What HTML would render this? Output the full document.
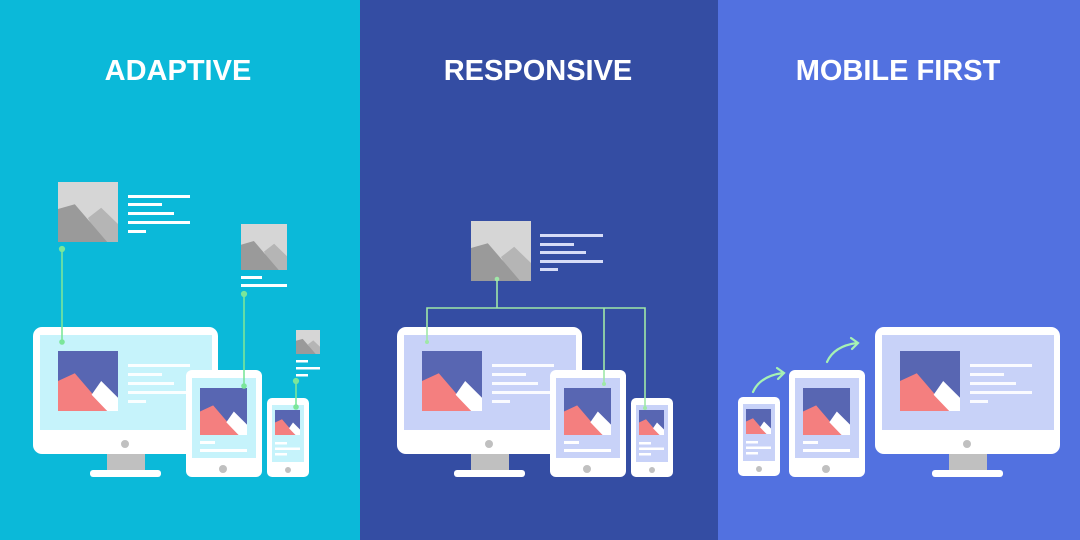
<!DOCTYPE html>
<html><head><meta charset="utf-8"><style>
html,body{margin:0;padding:0;width:1080px;height:540px;overflow:hidden}
text{font-family:"Liberation Sans",sans-serif;font-weight:bold;fill:#fff;font-size:29px}
</style></head><body>
<svg width="1080" height="540" viewBox="0 0 1080 540" xmlns="http://www.w3.org/2000/svg">
<defs>
<symbol id="img" viewBox="0 0 100 100" preserveAspectRatio="none">
<rect width="100" height="100" fill="#5866b2"/>
<polygon points="0,100 0,50 28,37 82,100" fill="#f47f7f"/>
<polygon points="56,73 72,50 100,78 100,100 82,100" fill="#fff"/>
</symbol>
<symbol id="gimg" viewBox="0 0 100 100" preserveAspectRatio="none">
<rect width="100" height="100" fill="#d6d6d6"/>
<polygon points="50,60 72,43 100,70 100,100 70,100" fill="#b5b5b5"/>
<polygon points="0,100 0,45 28,37 82,100" fill="#9a9a9a"/>
</symbol>
<g id="mon"><rect x="0" y="0" width="185" height="127" rx="9" fill="#fff"/>
<rect x="57" y="143" width="71" height="7" rx="3" fill="#fff"/>
<rect x="74" y="127" width="38" height="16" fill="#c0c0c0"/>
<circle cx="92" cy="117" r="4" fill="#c0c0c0"/></g>
<g id="monc"><use href="#img" x="25" y="24" width="60" height="60"/>
<rect x="95" y="37" width="62" height="3" fill="#fff" opacity=".9"/>
<rect x="95" y="46" width="34" height="3" fill="#fff" opacity=".9"/>
<rect x="95" y="55" width="46" height="3" fill="#fff" opacity=".9"/>
<rect x="95" y="64" width="62" height="3" fill="#fff" opacity=".9"/>
<rect x="95" y="73" width="18" height="3" fill="#fff" opacity=".9"/></g>
<g id="tab"><rect width="76" height="107" rx="6" fill="#fff"/>
<circle cx="37" cy="99" r="4" fill="#c0c0c0"/></g>
<g id="tabc"><use href="#img" x="14" y="18" width="47" height="47"/>
<rect x="14" y="71" width="15" height="3" fill="#fff"/>
<rect x="14" y="79" width="47" height="3" fill="#fff"/></g>
<g id="ph"><rect width="42" height="79" rx="5" fill="#fff"/>
<circle cx="21" cy="72" r="3" fill="#c0c0c0"/></g>
<g id="phc"><use href="#img" x="8" y="12" width="25" height="25"/>
<rect x="8" y="44" width="12" height="2.5" fill="#fff"/>
<rect x="8" y="49.5" width="25" height="2.5" fill="#fff"/>
<rect x="8" y="55" width="12" height="2.5" fill="#fff"/></g>
</defs>
<rect x="0" y="0" width="360" height="540" fill="#0bb9d9"/>
<rect x="360" y="0" width="358" height="540" fill="#344da3"/>
<rect x="718" y="0" width="362" height="540" fill="#5271e0"/>
<text x="178" y="80" text-anchor="middle">ADAPTIVE</text>
<text x="538" y="80" text-anchor="middle">RESPONSIVE</text>
<text x="898" y="80" text-anchor="middle">MOBILE FIRST</text>

<!-- ADAPTIVE -->
<use href="#gimg" x="58" y="182" width="60" height="60"/>
<g fill="#fff"><rect x="128" y="195" width="62" height="3"/><rect x="128" y="203" width="34" height="3"/><rect x="128" y="212" width="46" height="3"/><rect x="128" y="221" width="62" height="3"/><rect x="128" y="230" width="18" height="3"/></g>
<use href="#gimg" x="241" y="224" width="46" height="46"/>
<g fill="#fff"><rect x="241" y="276" width="21" height="3"/><rect x="241" y="284" width="46" height="3"/></g>
<use href="#gimg" x="296" y="330" width="24" height="24"/>
<g fill="#fff"><rect x="296" y="360" width="12" height="2.5"/><rect x="296" y="367" width="24" height="2.5"/><rect x="296" y="374" width="12" height="2.5"/></g>
<g transform="translate(33,327)"><use href="#mon"/><rect x="7" y="8" width="172" height="95" fill="#c6f3fb"/><use href="#monc"/></g>
<g transform="translate(186,370)"><use href="#tab"/><rect x="6" y="8" width="64" height="80" fill="#c6f3fb"/><use href="#tabc"/></g>
<g transform="translate(267,398)"><use href="#ph"/><rect x="5" y="7" width="32" height="57" fill="#c6f3fb"/><use href="#phc"/></g>
<g stroke="#7be69a" stroke-width="1.6" fill="#7be69a">
<line x1="62" y1="249" x2="62" y2="342"/><circle cx="62" cy="249" r="2.3"/><circle cx="62" cy="342" r="2"/>
<line x1="244" y1="294" x2="244" y2="386"/><circle cx="244" cy="294" r="2.3"/><circle cx="244" cy="386" r="2"/>
<line x1="296" y1="381" x2="296" y2="407"/><circle cx="296" cy="381" r="2.3"/><circle cx="296" cy="407" r="2"/>
</g>

<!-- RESPONSIVE -->
<use href="#gimg" x="471" y="221" width="60" height="60"/>
<g fill="#d6dcf7"><rect x="540" y="234" width="63" height="3"/><rect x="540" y="243" width="34" height="3"/><rect x="540" y="251" width="46" height="3"/><rect x="540" y="260" width="63" height="3"/><rect x="540" y="268" width="18" height="3"/></g>
<g transform="translate(397,327)"><use href="#mon"/><rect x="7" y="8" width="172" height="95" fill="#c8d2f8"/><use href="#monc"/></g>
<g transform="translate(550,370)"><use href="#tab"/><rect x="6" y="8" width="64" height="80" fill="#c8d2f8"/><use href="#tabc"/></g>
<g transform="translate(631,398)"><use href="#ph"/><rect x="5" y="7" width="32" height="57" fill="#c8d2f8"/><use href="#phc"/></g>
<g stroke="#9fe8a8" stroke-width="1.6" fill="none">
<polyline points="497,279 497,308"/><polyline points="427,342 427,308 645,308 645,408"/><line x1="604" y1="308" x2="604" y2="384"/>
</g>
<g fill="#9fe8a8"><circle cx="497" cy="279" r="2.3"/><circle cx="427" cy="342" r="2"/><circle cx="604" cy="384" r="2"/><circle cx="645" cy="408" r="2"/></g>

<!-- MOBILE FIRST -->
<g transform="translate(875,327)"><use href="#mon"/><rect x="7" y="8" width="172" height="95" fill="#c8d2f8"/><use href="#monc"/></g>
<g transform="translate(789,370)"><use href="#tab"/><rect x="6" y="8" width="64" height="80" fill="#c8d2f8"/><use href="#tabc"/></g>
<g transform="translate(738,397)"><use href="#ph"/><rect x="5" y="7" width="32" height="57" fill="#c8d2f8"/><use href="#phc"/></g>
<g stroke="#a6f2b4" stroke-width="2.2" fill="none" stroke-linecap="round">
<path d="M753,392 Q760,376 783,373"/><path d="M777,368 L784,373 L778,379"/>
<path d="M827,362 Q834,346 857,343"/><path d="M851,338 L858,343 L852,349"/>
</g>
</svg>
</body></html>
